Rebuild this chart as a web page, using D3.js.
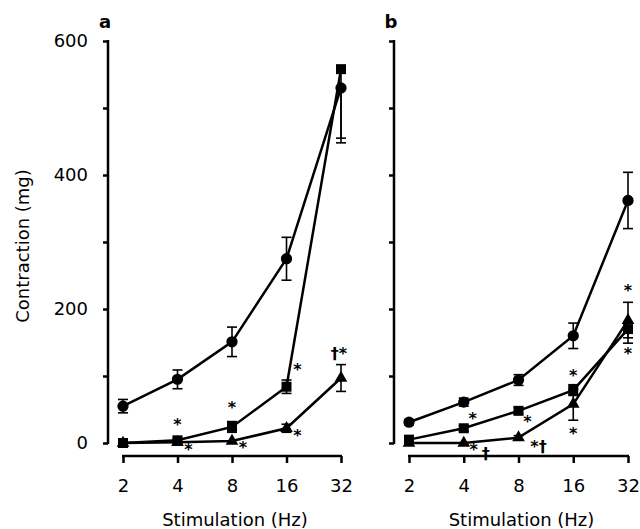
<!DOCTYPE html>
<html>
<head>
<meta charset="utf-8">
<script src="https://cdn.jsdelivr.net/npm/d3@7"></script>
<style>
  body { margin: 0; background: #fff; }
  text { font-family: "DejaVu Sans", sans-serif; fill: #000; }
</style>
</head>
<body>
<svg width="640" height="529"></svg>
<script>
var freqs = [2, 4, 8, 16, 32];
var yTicks = [0, 100, 200, 300, 400, 500, 600];
var yLabels = [0, 200, 400, 600];

// panel a
var aCircle = [55, 95, 151, 275, 530];
var aCircleUp = [10, 14, 22, 32, 0];
var aCircleDn = [10, 14, 22, 32, 75];
var aSquare = [0, 4, 24, 84, 558];
var aSquareUp = [0, 3, 8, 10, 0];
var aSquareDn = [0, 3, 8, 10, 110];
var aTriangle = [0, 1, 3, 22, 97];
var aTriangleUp = [0, 0, 0, 6, 20];
var aTriangleDn = [0, 0, 0, 6, 20];
var aMarks = [
  {f: 4, v: 32, t: "*", dx: 0}, {f: 4, v: -6, t: "*", dx: 11},
  {f: 8, v: 57, t: "*", dx: 0}, {f: 8, v: -3, t: "*", dx: 11},
  {f: 16, v: 113, t: "*", dx: 11}, {f: 16, v: 15, t: "*", dx: 11},
  {f: 32, v: 138, t: "†*", dx: -2}
];

// panel b
var bCircle = [31, 61, 94, 160, 362];
var bCircleUp = [4, 6, 8, 19, 42];
var bCircleDn = [4, 6, 8, 19, 42];
var bSquare = [5, 22, 48, 79, 170];
var bSquareUp = [2, 4, 5, 8, 0];
var bSquareDn = [2, 4, 5, 8, 21];
var bTriangle = [0, 0, 8, 58, 183];
var bTriangleUp = [0, 0, 3, 22, 27];
var bTriangleDn = [0, 0, 3, 24, 26];
var bMarks = [
  {f: 4, v: 40, t: "*", dx: 9}, {f: 4, v: -6, t: "*", dx: 10}, {f: 4, v: -12, t: "†", dx: 22},
  {f: 8, v: 36, t: "*", dx: 9}, {f: 8, v: -1, t: "*†", dx: 20},
  {f: 16, v: 104, t: "*", dx: 0}, {f: 16, v: 18, t: "*", dx: 0},
  {f: 32, v: 232, t: "*", dx: 0}, {f: 32, v: 138, t: "*", dx: 0}
];

var svg = d3.select("svg");
var y = d3.scaleLinear().domain([0, 600]).range([443, 41]);

function panel(opts) {
  var x = d3.scaleLog().base(2).domain([2, 32]).range([opts.x0, opts.x1]);
  var g = svg.append("g");

  // y axis
  var yAxis = d3.axisLeft(y).tickValues(yTicks).tickSize(5)
    .tickFormat(function(d) { return opts.labels && yLabels.indexOf(d) >= 0 ? d : ""; });
  var ya = g.append("g").attr("transform", "translate(" + opts.yx + ",0)").call(yAxis);
  ya.select(".domain").remove();
  ya.append("line").attr("x1", 0).attr("x2", 0).attr("y1", y(600) - 1).attr("y2", y(0) + 1)
    .attr("stroke", "#000").attr("stroke-width", 2.5);
  ya.selectAll(".tick line").attr("stroke-width", 2.5);
  ya.selectAll(".tick text").attr("x", -20).style("font-size", "18px")
    .style("font-family", "'DejaVu Sans', sans-serif");

  // x axis
  var xAxis = d3.axisBottom(x).tickValues(freqs).tickSize(7).tickFormat(d3.format("d"));
  var xa = g.append("g").attr("transform", "translate(0,456)").call(xAxis);
  xa.select(".domain").remove();
  xa.append("line").attr("x1", opts.x0 - 1).attr("x2", opts.x1 + 1).attr("y1", 0).attr("y2", 0)
    .attr("stroke", "#000").attr("stroke-width", 2.5);
  xa.selectAll(".tick line").attr("stroke-width", 2.5);
  xa.selectAll(".tick text").attr("y", 23).style("font-size", "18px")
    .style("font-family", "'DejaVu Sans', sans-serif");

  g.append("text").attr("x", (opts.x0 + opts.x1) / 2 + 3).attr("y", 526)
    .attr("text-anchor", "middle").style("font-size", "18px").text("Stimulation (Hz)");
  g.append("text").attr("x", opts.yx - 3).attr("y", 28).attr("text-anchor", "middle")
    .style("font-size", "18px").style("font-weight", "bold").text(opts.letter);

  var line = d3.line().x(function(d) { return x(d.f); }).y(function(d) { return y(d.v); });

  opts.series.forEach(function(s) {
    var pts = freqs.map(function(f, i) { return {f: f, v: s.vals[i], up: s.up[i], dn: s.dn[i]}; });
    g.append("path").datum(pts).attr("d", line).attr("fill", "none")
      .attr("stroke", "#000").attr("stroke-width", 2.5);

    var eb = g.append("g").attr("stroke", "#000").attr("stroke-width", 1.6);
    pts.forEach(function(p) {
      if (p.up > 0) {
        eb.append("line").attr("x1", x(p.f)).attr("x2", x(p.f)).attr("y1", y(p.v)).attr("y2", y(p.v + p.up));
        eb.append("line").attr("x1", x(p.f) - 5).attr("x2", x(p.f) + 5).attr("y1", y(p.v + p.up)).attr("y2", y(p.v + p.up));
      }
      if (p.dn > 0) {
        eb.append("line").attr("x1", x(p.f)).attr("x2", x(p.f)).attr("y1", y(p.v)).attr("y2", y(p.v - p.dn));
        eb.append("line").attr("x1", x(p.f) - 5).attr("x2", x(p.f) + 5).attr("y1", y(p.v - p.dn)).attr("y2", y(p.v - p.dn));
      }
    });

    g.selectAll(null).data(pts).join("path")
      .attr("transform", function(d) { return "translate(" + x(d.f) + "," + y(d.v) + ")"; })
      .attr("d", d3.symbol().type(s.shape).size(s.size))
      .attr("fill", "#000");
  });

  g.selectAll(null).data(opts.marks).join("text")
    .attr("x", function(d) { return x(d.f) + d.dx; })
    .attr("y", function(d) { return y(d.v) + 8; })
    .attr("text-anchor", "middle")
    .style("font-size", "16px").style("font-weight", "bold")
    .text(function(d) { return d.t; });
}

panel({
  letter: "a", yx: 108, x0: 123, x1: 341, labels: true, marks: aMarks,
  series: [
    {vals: aCircle, up: aCircleUp, dn: aCircleDn, shape: d3.symbolCircle, size: 100},
    {vals: aSquare, up: aSquareUp, dn: aSquareDn, shape: d3.symbolSquare, size: 100},
    {vals: aTriangle, up: aTriangleUp, dn: aTriangleDn, shape: d3.symbolTriangle, size: 70}
  ]
});
panel({
  letter: "b", yx: 394, x0: 409, x1: 628, labels: false, marks: bMarks,
  series: [
    {vals: bCircle, up: bCircleUp, dn: bCircleDn, shape: d3.symbolCircle, size: 100},
    {vals: bSquare, up: bSquareUp, dn: bSquareDn, shape: d3.symbolSquare, size: 100},
    {vals: bTriangle, up: bTriangleUp, dn: bTriangleDn, shape: d3.symbolTriangle, size: 70}
  ]
});

svg.append("text").attr("transform", "translate(29,246) rotate(-90)")
  .attr("text-anchor", "middle").style("font-size", "18px").text("Contraction (mg)");
</script>
</body>
</html>
